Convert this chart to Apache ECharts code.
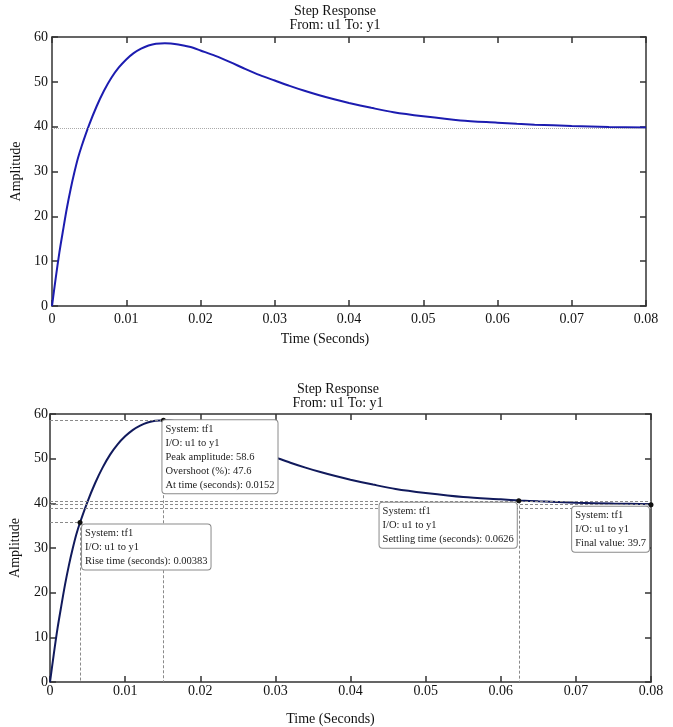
<!DOCTYPE html>
<html>
<head>
<meta charset="utf-8">
<title>Step Response</title>
<script src="https://cdn.jsdelivr.net/npm/echarts@6/dist/echarts.min.js"></script>
<style>
	html, body { margin: 0; padding: 0; background: #fff; }
	#main { width: 673px; height: 727px; }
</style>
</head>
<body>
<div id="main"></div>
<script>
// step response samples (time in s, amplitude)
var timeData = [0, 0.0005, 0.001, 0.0015, 0.002, 0.0025, 0.003, 0.0035, 0.004, 0.005,
	0.006, 0.007, 0.008, 0.009, 0.010, 0.011, 0.012, 0.013, 0.014, 0.0152,
	0.016, 0.017, 0.018, 0.019, 0.020, 0.022, 0.024, 0.026, 0.028, 0.030,
	0.032, 0.034, 0.036, 0.038, 0.040, 0.043, 0.046, 0.050, 0.055, 0.060,
	0.0626, 0.065, 0.070, 0.075, 0.080];
var ampData = [0, 6.2, 12, 17, 21.8, 26, 29.7, 33, 35.7, 40.4,
	44.5, 48, 50.9, 53.2, 55.0, 56.4, 57.4, 58.1, 58.5, 58.6,
	58.55, 58.35, 58.0, 57.6, 57.0, 55.8, 54.4, 52.9, 51.5, 50.3,
	49.1, 48.0, 47.0, 46.1, 45.3, 44.2, 43.2, 42.3, 41.4, 40.9,
	40.65, 40.45, 40.15, 39.95, 39.8];

var xTickLabels = ['0', '0.01', '0.02', '0.03', '0.04', '0.05', '0.06', '0.07', '0.08'];
var yTickLabels = ['0', '10', '20', '30', '40', '50', '60'];

// characteristics (data tips on the lower plot)
var finalValue = 39.7;
var bandUpper = 40.5;
var bandLower = 38.9;
var risePoint = [0.0040, 35.7];
var peakPoint = [0.0151, 58.6];
var settlePoint = [0.0624, 40.6];
var finalPoint = [0.08, 39.7];

var riseText = ['System: tf1', 'I/O: u1 to y1', 'Rise time (seconds): 0.00383'];
var peakText = ['System: tf1', 'I/O: u1 to y1', 'Peak amplitude: 58.6', 'Overshoot (%): 47.6', 'At time (seconds): 0.0152'];
var settleText = ['System: tf1', 'I/O: u1 to y1', 'Settling time (seconds): 0.0626'];
var finalText = ['System: tf1', 'I/O: u1 to y1', 'Final value: 39.7'];

var FONT = 'Liberation Serif';
var TIP_SIZE = 10.5;
var TIP_PAD = [2, 3, 1, 3];
var AXIS_COLOR = '#333';

var chart = echarts.init(document.getElementById('main'));

var curve = timeData.map(function (t, i) { return [t, ampData[i]]; });

// width of a data tip box, so right-anchored tips can keep left-aligned text
var measureCtx = document.createElement('canvas').getContext('2d');
measureCtx.font = TIP_SIZE + 'px "' + FONT + '"';
function tipWidth(lines) {
	var w = 0;
	lines.forEach(function (s) { w = Math.max(w, measureCtx.measureText(s).width); });
	return w + TIP_PAD[1] + TIP_PAD[3] + 2;
}

function xAxisFor(gridIndex, position, labelMargin, nameShift) {
	var main = position === 'bottom';
	return {
		type: 'value',
		gridIndex: gridIndex,
		position: position,
		min: 0,
		max: 0.08,
		interval: 0.01,
		name: main ? 'Time (Seconds)' : '',
		nameLocation: 'middle',
		nameGap: gridIndex === 0 ? 26 : 30,
		nameTextStyle: {
			fontFamily: FONT, fontSize: 14, color: '#111',
			padding: [0, nameShift * 2, 0, 0]
		},
		axisLine: { show: true, onZero: false, lineStyle: { color: AXIS_COLOR, width: 1.5 } },
		axisTick: { show: true, inside: true, length: 6, lineStyle: { color: AXIS_COLOR, width: 1.5 } },
		axisLabel: {
			show: main,
			margin: labelMargin,
			fontFamily: FONT, fontSize: 14, color: '#111',
			formatter: function (v) { return xTickLabels[Math.round(v / 0.01)]; }
		},
		splitLine: { show: false }
	};
}

function yAxisFor(gridIndex, position, labelMargin) {
	var main = position === 'left';
	return {
		type: 'value',
		gridIndex: gridIndex,
		position: position,
		min: 0,
		max: 60,
		interval: 10,
		name: main ? 'Amplitude' : '',
		nameLocation: 'middle',
		nameGap: 28,
		nameTextStyle: { fontFamily: FONT, fontSize: 14, color: '#111' },
		axisLine: { show: true, onZero: false, lineStyle: { color: AXIS_COLOR, width: 1.5 } },
		axisTick: { show: true, inside: true, length: 6, lineStyle: { color: AXIS_COLOR, width: 1.5 } },
		axisLabel: {
			show: main,
			margin: labelMargin,
			fontFamily: FONT, fontSize: 14, color: '#111',
			formatter: function (v) { return yTickLabels[Math.round(v / 10)]; }
		},
		splitLine: { show: false }
	};
}

// anchorRight: box's right edge sits at the marker, text still left aligned
function tipLabel(lines, dx, dy, anchorRight) {
	var shift = anchorRight ? -tipWidth(lines) : 0;
	return {
		show: true,
		position: [2.5 + dx + shift, 2.5 + dy],
		align: 'left',
		verticalAlign: 'top',
		formatter: lines.join('\n'),
		backgroundColor: '#fff',
		borderColor: '#8a8a8a',
		borderWidth: 1,
		borderRadius: 3,
		padding: TIP_PAD,
		lineHeight: 14,
		fontFamily: FONT,
		fontSize: TIP_SIZE,
		color: '#222'
	};
}

var guide = { type: [3, 2], color: '#8a8a8a', width: 1 };

option = {
	animation: false,
	backgroundColor: '#fff',
	title: [{
		text: 'Step Response\nFrom: u1 To: y1',
		left: 330,
		top: -1,
		textAlign: 'center',
		textStyle: { fontFamily: FONT, fontSize: 14, fontWeight: 'normal', color: '#111', lineHeight: 14 }
	}, {
		text: 'Step Response\nFrom: u1 To: y1',
		left: 333,
		top: 377,
		textAlign: 'center',
		textStyle: { fontFamily: FONT, fontSize: 14, fontWeight: 'normal', color: '#111', lineHeight: 14 }
	}],
	grid: [
		{ left: 52, top: 37, width: 594, height: 269 },
		{ left: 47, top: 414, width: 604, height: 277 }
	],
	xAxis: [
		xAxisFor(0, 'bottom', 6, 24),
		xAxisFor(0, 'top', 6, 0),
		xAxisFor(1, 'bottom', 2, 20),
		xAxisFor(1, 'top', 2, 0)
	],
	yAxis: [
		yAxisFor(0, 'left', 4),
		yAxisFor(0, 'right', 4),
		yAxisFor(1, 'left', 2),
		yAxisFor(1, 'right', 2)
	],
	series: [
		{
			type: 'line',
			xAxisIndex: 0,
			yAxisIndex: 0,
			data: curve,
			smooth: 0.3,
			showSymbol: false,
			lineStyle: { color: '#1c1cb0', width: 2 },
			markLine: {
				silent: true,
				symbol: 'none',
				label: { show: false },
				lineStyle: { type: 'dotted', color: '#aaa', width: 1 },
				data: [{ yAxis: finalValue }]
			}
		},
		{
			type: 'line',
			xAxisIndex: 2,
			yAxisIndex: 2,
			data: curve,
			smooth: 0.3,
			showSymbol: false,
			z: 3,
			lineStyle: { color: '#111a5c', width: 2 },
			markLine: {
				silent: true,
				symbol: 'none',
				label: { show: false },
				lineStyle: guide,
				data: [
					{ yAxis: bandUpper },
					{ yAxis: finalValue },
					{ yAxis: bandLower },
					[{ coord: [0, peakPoint[1]] }, { coord: peakPoint }],
					[{ coord: peakPoint }, { coord: [peakPoint[0], 0] }],
					[{ coord: [0, risePoint[1]] }, { coord: risePoint }],
					[{ coord: risePoint }, { coord: [risePoint[0], 0] }],
					[{ coord: settlePoint }, { coord: [settlePoint[0], 0] }]
				]
			}
		},
		{
			type: 'scatter',
			xAxisIndex: 2,
			yAxisIndex: 2,
			symbolSize: 5,
			z: 5,
			itemStyle: { color: '#111', opacity: 1 },
			data: [
				{ value: risePoint, label: tipLabel(riseText, 2, 2, false) },
				{ value: peakPoint, label: tipLabel(peakText, -1, 0, false) },
				{ value: settlePoint, label: tipLabel(settleText, 0, 2, true) },
				{ value: finalPoint, label: tipLabel(finalText, 0, 2, true) }
			]
		}
	]
};

chart.setOption(option);
</script>
</body>
</html>
